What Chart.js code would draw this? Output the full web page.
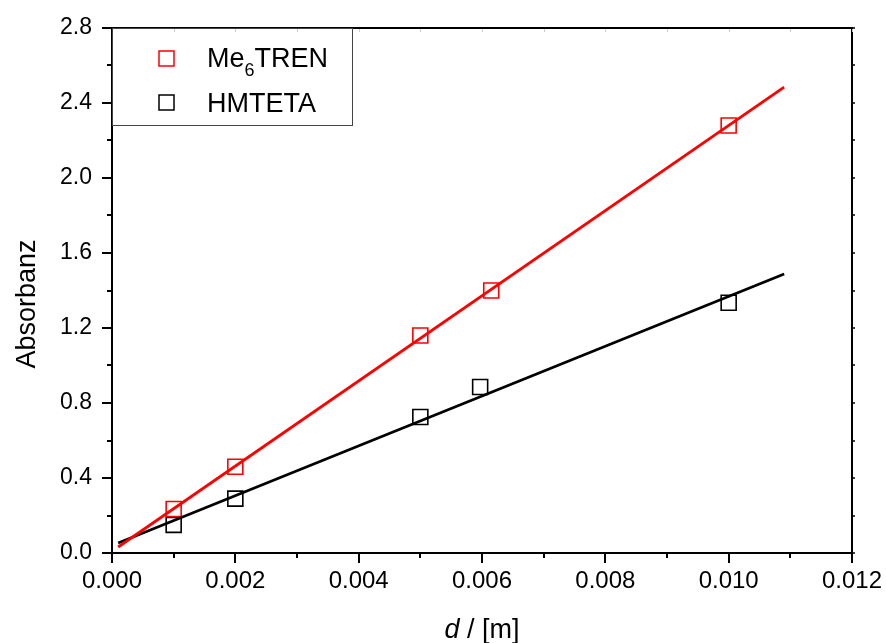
<!DOCTYPE html>
<html>
<head>
<meta charset="utf-8">
<title>Absorbanz vs. d</title>
<script src="https://cdn.jsdelivr.net/npm/chart.js@4.4.1/dist/chart.umd.min.js"></script>
<style>
    html, body { margin: 0; padding: 0; background: #fff; }
    canvas { display: block; }
</style>
</head>
<body>
<canvas id="absChart" width="886" height="643"></canvas>
<script>
// measured points
const meX = [0.001, 0.002, 0.005, 0.00615, 0.010];
const meY = [0.235, 0.46, 1.16, 1.40, 2.28];
const hmX = [0.001, 0.002, 0.005, 0.00597, 0.010];
const hmY = [0.15, 0.29, 0.725, 0.885, 1.335];

// linear fits (end points)
const fitX = [0.0001, 0.0109];
const meFitY = [0.032, 2.485];
const hmFitY = [0.053, 1.488];

// axis ticks
const xMajor = [0, 0.002, 0.004, 0.006, 0.008, 0.010, 0.012];
const xMinor = [0.001, 0.003, 0.005, 0.007, 0.009, 0.011];
const yMajor = [0, 0.4, 0.8, 1.2, 1.6, 2.0, 2.4, 2.8];
const yMinor = [0.2, 0.6, 1.0, 1.4, 1.8, 2.2, 2.6];

const FONT = '"Liberation Sans", Arial, Helvetica, sans-serif';
const RED = '#ff0000';
const BLACK = '#000000';

const toPoints = (xs, ys) => xs.map((x, i) => ({ x: x, y: ys[i] }));

// frame, tick marks, legend and axis titles
const framePlugin = {
    id: 'originFrame',
    afterDraw(chart) {
        const ctx = chart.ctx;
        const xs = chart.scales.x;
        const ys = chart.scales.y;
        const a = chart.chartArea;

        ctx.save();
        ctx.strokeStyle = BLACK;
        ctx.lineWidth = 2;
        ctx.lineCap = 'butt';

        // border
        ctx.beginPath();
        ctx.rect(a.left, a.top, a.right - a.left, a.bottom - a.top);
        ctx.stroke();

        // bottom ticks
        ctx.beginPath();
        xMajor.forEach(v => {
            const px = Math.round(xs.getPixelForValue(v));
            ctx.moveTo(px, a.bottom); ctx.lineTo(px, a.bottom + 10);
        });
        xMinor.forEach(v => {
            const px = Math.round(xs.getPixelForValue(v));
            ctx.moveTo(px, a.bottom); ctx.lineTo(px, a.bottom + 5);
        });
        // left ticks
        yMajor.forEach(v => {
            const py = Math.round(ys.getPixelForValue(v));
            ctx.moveTo(a.left, py); ctx.lineTo(a.left - 10, py);
        });
        yMinor.forEach(v => {
            const py = Math.round(ys.getPixelForValue(v));
            ctx.moveTo(a.left, py); ctx.lineTo(a.left - 5, py);
        });
        ctx.stroke();

        // right ticks (short, outward)
        ctx.lineWidth = 1.5;
        ctx.beginPath();
        yMajor.concat(yMinor).forEach(v => {
            const py = Math.round(ys.getPixelForValue(v));
            ctx.moveTo(a.right, py); ctx.lineTo(a.right + 3, py);
        });
        ctx.stroke();

        // faint top ticks
        ctx.strokeStyle = '#cccccc';
        ctx.lineWidth = 1;
        ctx.beginPath();
        xMajor.concat(xMinor).forEach(v => {
            const px = Math.round(xs.getPixelForValue(v)) + 0.5;
            ctx.moveTo(px, a.top + 1); ctx.lineTo(px, a.top + 4);
        });
        ctx.stroke();

        // legend box
        ctx.strokeStyle = '#444444';
        ctx.lineWidth = 1;
        ctx.strokeRect(a.left + 0.5, a.top + 0.5, 240, 97);

        ctx.lineWidth = 1.5;
        ctx.strokeStyle = RED;
        ctx.strokeRect(159, 51, 15, 15);
        ctx.strokeStyle = BLACK;
        ctx.strokeRect(159, 95, 15, 15);

        ctx.fillStyle = BLACK;
        ctx.textAlign = 'left';
        ctx.textBaseline = 'alphabetic';
        ctx.font = '27px ' + FONT;
        ctx.fillText('Me', 207, 67);
        let w = ctx.measureText('Me').width;
        ctx.font = '18px ' + FONT;
        ctx.fillText('6', 207 + w, 76);
        const w6 = ctx.measureText('6').width;
        ctx.font = '27px ' + FONT;
        ctx.fillText('TREN', 207 + w + w6, 67);
        ctx.fillText('HMTETA', 207, 112);

        // y title
        ctx.save();
        ctx.translate(35, 304);
        ctx.rotate(-Math.PI / 2);
        ctx.textAlign = 'center';
        ctx.font = '27px ' + FONT;
        ctx.fillText('Absorbanz', 0, 0);
        ctx.restore();

        // x title: italic d / [m]
        const cx = (a.left + a.right) / 2;
        ctx.font = 'italic 27px ' + FONT;
        const wd = ctx.measureText('d').width;
        ctx.font = '27px ' + FONT;
        const wr = ctx.measureText(' / [m]').width;
        const x0 = cx - (wd + wr) / 2;
        ctx.font = 'italic 27px ' + FONT;
        ctx.fillText('d', x0, 638);
        ctx.font = '27px ' + FONT;
        ctx.fillText(' / [m]', x0 + wd, 638);

        ctx.restore();
    }
};

// Chart.js 'rect' side = 2 * radius * SQRT1_2, so this gives ~15px squares
const markerStyle = (color) => ({
    showLine: false,
    pointStyle: 'rect',
    pointRadius: 10.6,
    pointBorderWidth: 1.6,
    pointBorderColor: color,
    pointBackgroundColor: 'rgba(0,0,0,0)',
    borderColor: color
});

const fitStyle = (color) => ({
    showLine: true,
    borderColor: color,
    borderWidth: 2.8,
    pointRadius: 0,
    fill: false
});

new Chart(document.getElementById('absChart').getContext('2d'), {
    type: 'scatter',
    data: {
        datasets: [
            { label: 'Me6TREN fit', data: toPoints(fitX, meFitY), ...fitStyle(RED) },
            { label: 'HMTETA fit', data: toPoints(fitX, hmFitY), ...fitStyle(BLACK) },
            { label: 'Me6TREN', data: toPoints(meX, meY), ...markerStyle(RED) },
            { label: 'HMTETA', data: toPoints(hmX, hmY), ...markerStyle(BLACK) }
        ]
    },
    options: {
        responsive: false,
        animation: false,
        events: [],
        layout: { padding: { left: 0, top: 28, right: 34, bottom: 0 } },
        plugins: {
            legend: { display: false },
            tooltip: { enabled: false }
        },
        scales: {
            x: {
                type: 'linear',
                min: 0,
                max: 0.012,
                afterFit: (s) => {
                    s.height = 90;
                    s.paddingLeft = 0;
                    s.paddingRight = 0;
                },
                afterBuildTicks: (s) => { s.ticks = xMajor.map(v => ({ value: v })); },
                grid: { display: false, drawTicks: false },
                border: { display: false },
                ticks: {
                    color: BLACK,
                    padding: 14,
                    maxRotation: 0,
                    font: { family: FONT, size: 24 },
                    callback: (v) => Number(v).toFixed(3)
                }
            },
            y: {
                type: 'linear',
                min: 0,
                max: 2.8,
                afterFit: (s) => {
                    s.width = 112;
                    s.paddingTop = 0;
                    s.paddingBottom = 0;
                },
                afterBuildTicks: (s) => { s.ticks = yMajor.map(v => ({ value: v })); },
                grid: { display: false, drawTicks: false },
                border: { display: false },
                ticks: {
                    color: BLACK,
                    padding: 20,
                    font: { family: FONT, size: 23 },
                    callback: (v) => Number(v).toFixed(1)
                }
            }
        }
    },
    plugins: [framePlugin]
});
</script>
</body>
</html>
